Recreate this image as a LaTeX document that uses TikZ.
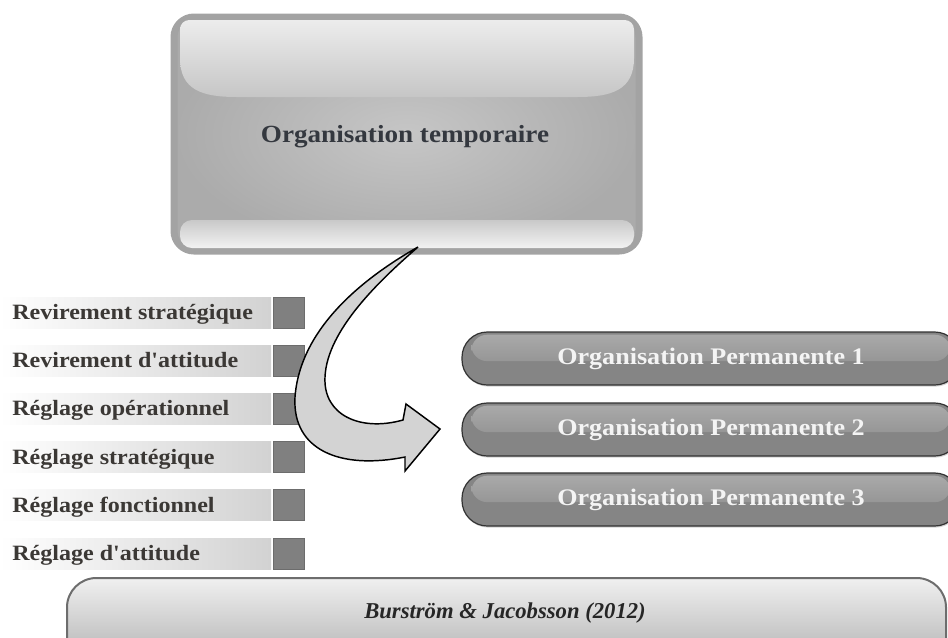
\documentclass[tikz,border=0pt]{standalone}
\usepackage{fontspec}
\setmainfont{Liberation Serif}
\newfontfamily\cam[FakeStretch=1.1]{Liberation Serif}
\usetikzlibrary{shadows}
\definecolor{tbBorder}{HTML}{A3A3A3}
\definecolor{tbIn}{HTML}{C6C6C6}
\definecolor{tbOut}{HTML}{ABABAB}
\definecolor{glossHi}{HTML}{ECECEC}
\definecolor{bandTop}{HTML}{C9C9C9}
\definecolor{bandBot}{HTML}{F2F2F2}
\definecolor{darkTxt}{HTML}{34383F}
\definecolor{labTxt}{HTML}{3B3835}
\definecolor{barR}{HTML}{D2D2D2}
\definecolor{sqFill}{HTML}{808080}
\definecolor{sqLine}{HTML}{6C6C6C}
\definecolor{pillFill}{HTML}{858585}
\definecolor{pillLine}{HTML}{333333}
\definecolor{pillGloss}{HTML}{ABABAB}
\definecolor{pillTxt}{HTML}{F4F4F4}
\definecolor{arrFill}{HTML}{D3D3D3}
\definecolor{refTop}{HTML}{F0F0F0}
\definecolor{refBot}{HTML}{A6A6A6}
\definecolor{refLine}{HTML}{6D6D6D}
\tikzset{
  barbox/.style={minimum width=203.25pt, minimum height=23.25pt, inner sep=0pt,
    left color=white, right color=barR, draw=none},
  sqbox/.style={minimum width=23.25pt, minimum height=23.25pt, inner sep=0pt,
    fill=sqFill, draw=sqLine, line width=0.6pt},
  labtext/.style={anchor=base west, inner sep=0pt, text=labTxt,
    font=\cam\fontsize{16.4}{19}\selectfont\bfseries},
  pill/.style={minimum width=373.5pt, minimum height=39.75pt, inner sep=0pt,
    rounded corners=19pt, fill=pillFill, draw=pillLine, line width=0.9pt,
    drop shadow={opacity=0.35, shadow xshift=0.6pt, shadow yshift=-1.2pt},
    text=pillTxt, font=\cam\fontsize{17.8}{21}\selectfont\bfseries,
    path picture={\shade[top color=pillGloss, bottom color=pillFill, rounded corners=12pt]
      ([xshift=7pt,yshift=-2pt]path picture bounding box.north west) rectangle
      ([xshift=-7pt,yshift=-2pt]path picture bounding box.east);}},
  arrowshape/.style={fill=arrFill, draw=black, line width=1.1pt, line join=miter}
}
\begin{document}
\begin{tikzpicture}[x=0.75pt,y=-0.75pt]
\useasboundingbox (0,0) rectangle (948,637);
% ---------- top box ----------
\shadedraw[rounded corners=15pt, draw=tbBorder, line width=5.25pt,
  inner color=tbIn, outer color=tbOut] (174,17) rectangle (639,251);
\shade[top color=glossHi, bottom color=tbIn]
  (180,58) [rounded corners=7pt] -- (180,20) -- (634,20) [sharp corners] -- (634,58)
  .. controls (634,90) and (612,97) .. (577,97) -- (237,97)
  .. controls (202,97) and (180,90) .. (180,58) -- cycle;
\shade[top color=bandTop, bottom color=bandBot, rounded corners=9pt]
  (180,220) rectangle (634,248);
\node[text=darkTxt, font=\cam\fontsize{18.5}{22}\selectfont\bfseries] (temp) at (405,137) {Organisation temporaire};
% ---------- left list ----------
\foreach \lab [count=\i] in {Revirement stratégique, Revirement d'attitude, Réglage opérationnel, Réglage stratégique, Réglage fonctionnel, Réglage d'attitude}{
  \pgfmathsetmacro{\cy}{312.5+48.2*(\i-1)}
  \node[barbox] (bar\i) at (135.5,\cy) {};
  \node[sqbox] (sq\i) at (288.5,\cy) {};
  \node[labtext] (lab\i) at (12,\cy+7) {\lab};
}
% ---------- permanent organisations ----------
\node[pill] (p1) at (711,358.5) {Organisation Permanente 1};
\node[pill] (p2) at (711,429.5) {Organisation Permanente 2};
\node[pill] (p3) at (711,499.5) {Organisation Permanente 3};
% ---------- curved arrow ----------
\filldraw[arrowshape] (418,247) .. controls (360,280) and (300,330) .. (295,397)
  .. controls (292,450) and (340,470) .. (405,457) -- (405,471) -- (440,429) -- (406,404) -- (403,420)
  .. controls (360,432) and (323,415) .. (325,377)
  .. controls (327,330) and (380,280) .. (418,247) -- cycle;
% ---------- reference bar ----------
\shadedraw[rounded corners=22pt, draw=refLine, line width=1.5pt,
  top color=refTop, bottom color=refBot] (67,680) -- (67,578) -- (946,578) -- (946,680);
\node[text=black!85, font=\fontsize{17}{20}\selectfont\bfseries\itshape] (ref) at (505,613) {Burström \& Jacobsson (2012)};
\end{tikzpicture}
\end{document}
